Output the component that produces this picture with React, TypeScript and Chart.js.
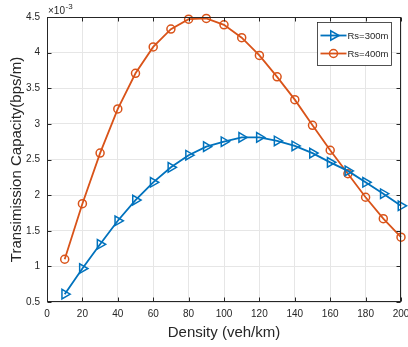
import React, { useEffect, useRef } from "react";
import { Chart, registerables } from "chart.js";

Chart.register(...registerables);

// Density (veh/km)
const densities = [10, 20, 30, 40, 50, 60, 70, 80, 90, 100, 110, 120, 130, 140, 150, 160, 170, 180, 190, 200];
// Transmission capacity, in units of 1e-3 bps/m
const rs300 = [0.61, 0.97, 1.31, 1.64, 1.93, 2.18, 2.39, 2.56, 2.68, 2.75, 2.81, 2.81, 2.76, 2.69, 2.59, 2.46, 2.34, 2.18, 2.02, 1.85];
const rs400 = [1.10, 1.88, 2.59, 3.21, 3.71, 4.08, 4.33, 4.47, 4.48, 4.39, 4.21, 3.96, 3.66, 3.34, 2.98, 2.63, 2.30, 1.97, 1.67, 1.41];
const seriesLabels = ["Rs=300m", "Rs=400m"];
const xTitle = "Density (veh/km)";
const yTitle = "Transimission Capacity(bps/m)";
const exponentBase = "\u00d710";
const exponentPower = "-3";

const BLUE = "#0072BD";
const ORANGE = "#D95319";
const AXIS = "#262626";
const FONT = "'Liberation Sans', Arial, Helvetica, sans-serif";

function drawMarker(ctx: CanvasRenderingContext2D, style: string, x: number, y: number, r: number, rotDeg: number) {
  ctx.beginPath();
  if (style === "circle") {
    ctx.arc(x, y, r, 0, Math.PI * 2);
  } else {
    let rad = (rotDeg * Math.PI) / 180;
    ctx.moveTo(x + Math.sin(rad) * r, y - Math.cos(rad) * r);
    rad += (2 * Math.PI) / 3;
    ctx.lineTo(x + Math.sin(rad) * r, y - Math.cos(rad) * r);
    rad += (2 * Math.PI) / 3;
    ctx.lineTo(x + Math.sin(rad) * r, y - Math.cos(rad) * r);
    ctx.closePath();
  }
  ctx.stroke();
}

const zeroPadding = () => ({ left: 0, right: 0, top: 0, bottom: 0 });

const framePlugin = {
  id: "matlabFrame",
  afterDraw(chart: any) {
    const { ctx, chartArea: a, scales } = chart;
    const xs = scales.x;
    const ys = scales.y;
    ctx.save();
    const L = Math.round(a.left) + 0.5;
    const R = Math.round(a.right) - 0.5;
    const T = Math.round(a.top) + 0.5;
    const B = Math.round(a.bottom) - 0.5;
    ctx.strokeStyle = AXIS;
    ctx.lineWidth = 1;
    ctx.strokeRect(L, T, R - L, B - T);
    const tl = 4;
    ctx.beginPath();
    xs.ticks.forEach((t: any) => {
      const p = Math.round(xs.getPixelForValue(t.value)) + 0.5;
      ctx.moveTo(p, B);
      ctx.lineTo(p, B - tl);
      ctx.moveTo(p, T);
      ctx.lineTo(p, T + tl);
    });
    ys.ticks.forEach((t: any) => {
      const p = Math.round(ys.getPixelForValue(t.value)) + 0.5;
      ctx.moveTo(L, p);
      ctx.lineTo(L + tl, p);
      ctx.moveTo(R, p);
      ctx.lineTo(R - tl, p);
    });
    ctx.stroke();

    // exponent label
    ctx.fillStyle = AXIS;
    ctx.textBaseline = "alphabetic";
    ctx.textAlign = "left";
    ctx.font = `10px ${FONT}`;
    ctx.fillText(exponentBase, a.left + 1, a.top - 3);
    const w = ctx.measureText(exponentBase).width;
    ctx.font = `8px ${FONT}`;
    ctx.fillText(exponentPower, a.left + 1 + w + 0.5, a.top - 8);

    // legend
    ctx.font = `9.5px ${FONT}`;
    const textW = Math.max(...seriesLabels.map((s) => ctx.measureText(s).width));
    const bw = 30 + textW + 3;
    const bh = 43;
    const bx = Math.round(a.right - 10 - bw) + 0.5;
    const by = Math.round(a.top + 5) + 0.5;
    ctx.fillStyle = "#ffffff";
    ctx.fillRect(bx, by, bw, bh);
    ctx.strokeStyle = AXIS;
    ctx.lineWidth = 0.8;
    ctx.strokeRect(bx, by, bw, bh);
    const entries = [
      { label: seriesLabels[0], color: BLUE, style: "triangle", r: 5.5, rot: 90 },
      { label: seriesLabels[1], color: ORANGE, style: "circle", r: 4, rot: 0 },
    ];
    entries.forEach((e, i) => {
      const cy = by + 13 + i * 18;
      ctx.strokeStyle = e.color;
      ctx.lineWidth = 1.8;
      ctx.beginPath();
      ctx.moveTo(bx + 3, cy);
      ctx.lineTo(bx + 29, cy);
      ctx.stroke();
      ctx.lineWidth = 1.5;
      drawMarker(ctx, e.style, bx + 16, cy, e.r, e.rot);
      ctx.fillStyle = AXIS;
      ctx.textBaseline = "middle";
      ctx.fillText(e.label, bx + 30, cy + 0.5);
    });
    ctx.restore();
  },
};

export default function App() {
  const ref = useRef<HTMLCanvasElement | null>(null);
  useEffect(() => {
    document.body.style.margin = "0";
    if (!ref.current) return;
    const chart = new Chart(ref.current, {
      type: "line",
      data: {
        datasets: [
          {
            label: seriesLabels[0],
            data: densities.map((d, i) => ({ x: d, y: rs300[i] })),
            borderColor: BLUE,
            backgroundColor: "rgba(0,0,0,0)",
            borderWidth: 1.8,
            pointStyle: "triangle",
            pointRotation: 90,
            pointRadius: 5.5,
            pointBorderWidth: 1.5,
            pointBorderColor: BLUE,
            pointBackgroundColor: "rgba(0,0,0,0)",
            tension: 0,
            clip: false as any,
          },
          {
            label: seriesLabels[1],
            data: densities.map((d, i) => ({ x: d, y: rs400[i] })),
            borderColor: ORANGE,
            backgroundColor: "rgba(0,0,0,0)",
            borderWidth: 1.8,
            pointStyle: "circle",
            pointRadius: 4,
            pointBorderWidth: 1.5,
            pointBorderColor: ORANGE,
            pointBackgroundColor: "rgba(0,0,0,0)",
            tension: 0,
            clip: false as any,
          },
        ],
      },
      options: {
        animation: false,
        responsive: false,
        maintainAspectRatio: false,
        devicePixelRatio: 1,
        layout: { padding: { left: 0, top: 17, right: 4, bottom: 0 } },
        plugins: { legend: { display: false }, tooltip: { enabled: false } },
        events: [],
        scales: {
          x: {
            type: "linear",
            min: 0,
            max: 200,
            ticks: {
              stepSize: 20,
              color: AXIS,
              padding: 6,
              maxRotation: 0,
              font: { family: FONT, size: 10 },
              callback: (v: any) => String(v),
            },
            grid: { color: "#e6e6e6", drawTicks: false, lineWidth: 1 },
            border: { display: false },
            title: { display: true, text: xTitle, color: AXIS, font: { family: FONT, size: 15 }, padding: { top: 5, bottom: 5 } },
            afterFit: (s: any) => {
              s.height = 45;
              s.paddingLeft = 0;
              s.paddingRight = 0;
              s.getPadding = zeroPadding;
            },
          },
          y: {
            type: "linear",
            min: 0.5,
            max: 4.5,
            ticks: {
              stepSize: 0.5,
              color: AXIS,
              padding: 7,
              font: { family: FONT, size: 10 },
              callback: (v: any) => String(Math.round(Number(v) * 10) / 10),
            },
            grid: { color: "#e6e6e6", drawTicks: false, lineWidth: 1 },
            border: { display: false },
            title: { display: true, text: yTitle, color: AXIS, font: { family: FONT, size: 15 }, padding: { top: 8, bottom: 6 } },
            afterFit: (s: any) => {
              s.width = 47;
              s.paddingTop = 0;
              s.paddingBottom = 0;
              s.getPadding = zeroPadding;
            },
          },
        },
      },
      plugins: [framePlugin],
    });
    return () => chart.destroy();
  }, []);
  return (
    <div style={{ width: 408, height: 347, position: "relative" }}>
      <canvas ref={ref} width={408} height={347} style={{ display: "block", width: 408, height: 347 }} />
    </div>
  );
}
